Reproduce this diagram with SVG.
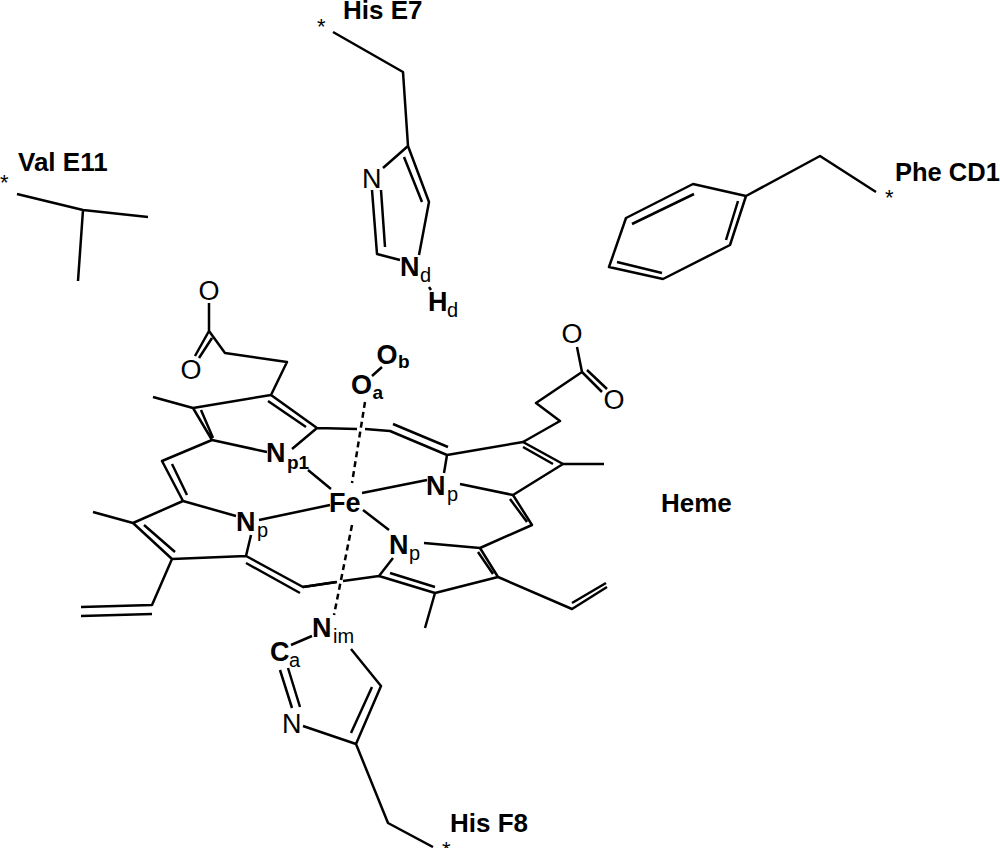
<svg xmlns="http://www.w3.org/2000/svg" width="1000" height="848" viewBox="0 0 1000 848">
<style>
text{font-family:"Liberation Sans",Arial,sans-serif;fill:#000}
.l{font-size:26px;font-weight:bold}
.a{font-size:27px;font-weight:bold}
.s{font-size:19px;font-weight:bold}
.r{font-size:20px}
.o{font-size:27px}
.st{font-size:22px}
path{fill:none;stroke:#000;stroke-width:2.5;stroke-linecap:butt;stroke-linejoin:round}
.d{stroke-dasharray:6 4;stroke-linecap:butt}
</style>
<rect width="1000" height="848" fill="#fff"/>
<g id="connectors">
<path d="M17 194L83 210L148 217M83 210L78 281"/>
<path d="M333 32L403 72L408 146L429 202L419 255M404 157L422 202M408 146L383 168M372 190L377 254L400 260M381 190L385 247M429 287L431 290"/>
<path d="M876 192L820 156L746 196L693 184L626 218L609 267L663 279L730 245L746 196M694 194L632 224M738 201L726 240M617 262L662 273"/>
<path d="M209 303V331M209 331L195 356M212 338L199 358M209 331L225 353L287 362L271 395L193 408L153 397M193 408L212 440L267 452M201 410L213 438M212 440L162 461L183 501M172 464L187 495M271 395L317 428L292 449M268 401L306 427M317 428L357 429M365 429L390 431L447 455L523 442L563 464L513 495L460 484M393 424L448 447M447 455L444 473"/>
<path d="M577 347L582 372L536 403L560 421L523 442M582 372L602 392M587 370L607 389M523 447L553 464M563 464H604M513 495L532 525L480 548L424 543M510 499L527 522"/>
<path d="M183 501L236 516M183 501L133 523L93 512M133 523L172 559L246 556L251 535M144 525L175 552M246 556L303 587L337 582M246 563L300 593M172 559L152 605L81 607M152 614L81 616"/>
<path d="M393 558L379 576L343 581M336 582L303 587M379 576L435 593L498 577L480 548M390 573L435 587M435 593L425 628M478 552L493 574M498 577L572 609L607 587M572 603L606 583"/>
<path d="M308 470L331 489M362 493L427 480M363 510L389 530M259 520L330 505M382 367L372 376"/>
<path class="d" d="M365 402L352 483M352 525L334 615"/>
<path d="M291 645L312 636M280 670L292 708M288 668L300 707M303 726L356 744L381 686L351 649M351 733L372 687M356 744L388 823L433 847"/>
</g>
<g id="val-e11"><text class="l" x="18" y="171">Val E11</text><text class="st" x="0" y="190">*</text></g>
<g id="his-e7"><text class="l" x="343" y="19">His E7</text><text class="st" x="317" y="34">*</text><text class="o" x="362" y="188">N</text>
<text class="a" x="400" y="276">N</text><text class="r" x="420" y="282">d</text>
<text class="a" x="428" y="311">H</text><text class="r" x="447" y="317">d</text></g>
<g id="phe-cd1"><text class="l" x="895" y="181" style="font-size:25.5px">Phe CD1</text><text class="st" x="885" y="205">*</text></g>
<g id="heme"><text class="l" x="661" y="512">Heme</text>
<text class="o" x="198.500" y="300">O</text><text class="o" x="180.500" y="379">O</text><text class="o" x="561.500" y="343">O</text><text class="o" x="603.500" y="409">O</text>
<text class="a" x="351" y="394">O</text><text class="s" x="372.500" y="399">a</text>
<text class="a" x="376.500" y="364">O</text><text class="s" x="398" y="368">b</text>
<text class="a" x="266" y="462">N</text><text class="s" x="287" y="469">p1</text>
<text class="a" x="426" y="495">N</text><text class="r" x="447" y="501">p</text>
<text class="a" x="236" y="531">N</text><text class="r" x="257" y="537">p</text>
<text class="a" x="389" y="554">N</text><text class="r" x="409" y="560">p</text>
<text class="a" x="329" y="512">Fe</text></g>
<g id="his-f8"><text class="a" x="312" y="637">N</text><text class="r" x="333" y="643">im</text>
<text class="a" x="270" y="661">C</text><text class="r" x="289" y="667">a</text>
<text class="o" x="282" y="733">N</text>
<text class="l" x="450" y="832">His F8</text><text class="st" x="442" y="857">*</text></g>
</svg>
